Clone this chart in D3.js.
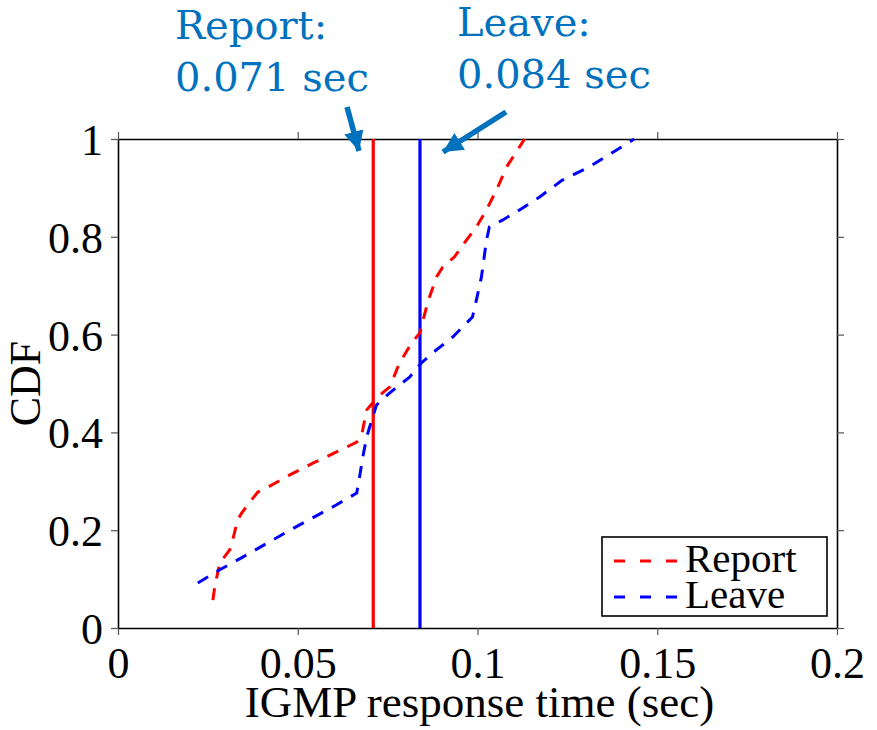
<!DOCTYPE html>
<html>
<head>
<meta charset="utf-8">
<script src="https://cdn.jsdelivr.net/npm/d3@7"></script>
<style>
  body { margin: 0; background: #fff; }
  svg text { font-family: "Liberation Serif", "Times New Roman", serif; }
</style>
</head>
<body>
<script>
// CDF of IGMP response times
var reportX = [0.0264, 0.0269, 0.0283, 0.0311, 0.0319, 0.0333, 0.0344, 0.0367, 0.0389, 0.0417,
               0.0478, 0.0542, 0.0608, 0.0664, 0.0678, 0.0686, 0.0692, 0.0708, 0.0736, 0.0756,
               0.0783, 0.0817, 0.0839, 0.0847, 0.0861, 0.0886, 0.0903, 0.0936, 0.0969, 0.0997,
               0.1025, 0.1053, 0.1081, 0.1117, 0.1131];
var reportY = [0.057, 0.084, 0.133, 0.160, 0.180, 0.221, 0.235, 0.258, 0.278, 0.288,
               0.313, 0.337, 0.360, 0.380, 0.395, 0.425, 0.446, 0.460, 0.481, 0.493,
               0.542, 0.583, 0.603, 0.624, 0.665, 0.718, 0.738, 0.759, 0.793, 0.820,
               0.855, 0.896, 0.943, 0.984, 1.0];
var leaveX = [0.0222, 0.0283, 0.0347, 0.0478, 0.0608, 0.0664, 0.0672, 0.0681, 0.0692, 0.0700,
              0.0719, 0.0756, 0.0811, 0.0844, 0.0886, 0.0931, 0.0986, 0.0997, 0.1011, 0.1025,
              0.1033, 0.1069, 0.1117, 0.1172, 0.1236, 0.1311, 0.1436];
var leaveY = [0.092, 0.119, 0.145, 0.200, 0.252, 0.276, 0.309, 0.350, 0.391, 0.411,
              0.456, 0.481, 0.513, 0.542, 0.569, 0.595, 0.636, 0.671, 0.718, 0.793,
              0.820, 0.834, 0.855, 0.881, 0.916, 0.943, 1.0];
var seriesNames = ['Report', 'Leave'];
var seriesColors = ['#ff0000', '#0000ff'];
var meanValues = [0.071, 0.084];
var meanLabels = ['0.071 sec', '0.084 sec'];
var xTicks = [0, 0.05, 0.1, 0.15, 0.2];
var xTickLabels = ['0', '0.05', '0.1', '0.15', '0.2'];
var yTicks = [0, 0.2, 0.4, 0.6, 0.8, 1];
var yTickLabels = ['0', '0.2', '0.4', '0.6', '0.8', '1'];

var width = 877, height = 730;
var margin = {left: 118, right: 40, top: 139, bottom: 102};

var svg = d3.select('body').append('svg')
    .attr('width', width)
    .attr('height', height);

var x = d3.scaleLinear().domain([0, 0.2]).range([margin.left, width - margin.right]);
var y = d3.scaleLinear().domain([0, 1]).range([height - margin.bottom, margin.top]);

// axes on all four sides, ticks pointing outward
function styleAxis(g) {
  g.select('.domain').attr('stroke', '#000').attr('stroke-width', 1.6);
  g.selectAll('.tick line').attr('stroke', '#555').attr('stroke-width', 1.2);
  g.selectAll('.tick text').attr('fill', '#000').style('font-size', '44px')
    .style('font-family', '"Liberation Serif", serif');
}

svg.append('g')
    .attr('transform', 'translate(0,' + y(0) + ')')
    .call(d3.axisBottom(x).tickValues(xTicks).tickSize(7).tickSizeOuter(0).tickPadding(12)
      .tickFormat(function(d, i) { return xTickLabels[i]; }))
    .call(styleAxis)
    .call(function(g) { g.selectAll('.tick text').attr('dy', '0.71em').attr('y', 19); });

svg.append('g')
    .attr('transform', 'translate(0,' + y(1) + ')')
    .call(d3.axisTop(x).tickValues(xTicks).tickSize(7).tickSizeOuter(0).tickFormat(''))
    .call(styleAxis);

svg.append('g')
    .attr('transform', 'translate(' + x(0) + ',0)')
    .call(d3.axisLeft(y).tickValues(yTicks).tickSize(7).tickSizeOuter(0).tickPadding(8)
      .tickFormat(function(d, i) { return yTickLabels[i]; }))
    .call(styleAxis)
    .call(function(g) { g.selectAll('.tick text').attr('dy', '0.35em').attr('x', -15); });

svg.append('g')
    .attr('transform', 'translate(' + x(0.2) + ',0)')
    .call(d3.axisRight(y).tickValues(yTicks).tickSize(7).tickSizeOuter(0).tickFormat(''))
    .call(styleAxis);

// axis titles
svg.append('text')
    .attr('x', (x(0) + x(0.2)) / 2 + 2)
    .attr('y', 717)
    .attr('text-anchor', 'middle')
    .style('font-size', '45px')
    .text('IGMP response time (sec)');

svg.append('text')
    .attr('transform', 'translate(40,' + ((y(0) + y(1)) / 2) + ') rotate(-90)')
    .attr('text-anchor', 'middle')
    .style('font-size', '44px')
    .text('CDF');

// vertical mean lines
svg.selectAll('.mean')
    .data(meanValues)
  .enter().append('line')
    .attr('class', 'mean')
    .attr('x1', function(d) { return x(d); })
    .attr('x2', function(d) { return x(d); })
    .attr('y1', y(0))
    .attr('y2', y(1))
    .attr('stroke', function(d, i) { return seriesColors[i]; })
    .attr('stroke-width', 3.2);

// CDF curves
var line = d3.line()
    .x(function(d) { return x(d[0]); })
    .y(function(d) { return y(d[1]); });

var curves = [d3.zip(reportX, reportY), d3.zip(leaveX, leaveY)];

svg.selectAll('.cdf')
    .data(curves)
  .enter().append('path')
    .attr('class', 'cdf')
    .attr('d', line)
    .attr('fill', 'none')
    .attr('stroke', function(d, i) { return seriesColors[i]; })
    .attr('stroke-width', 3)
    .attr('stroke-dasharray', '12,10');

// legend
var legend = svg.append('g');
legend.append('rect')
    .attr('x', 602).attr('y', 537)
    .attr('width', 225).attr('height', 79)
    .attr('fill', '#fff')
    .attr('stroke', '#000')
    .attr('stroke-width', 1.6);

seriesNames.forEach(function(name, i) {
  var ly = 561 + i * 36;
  legend.append('line')
      .attr('x1', 614).attr('x2', 677)
      .attr('y1', ly).attr('y2', ly)
      .attr('stroke', seriesColors[i])
      .attr('stroke-width', 3)
      .attr('stroke-dasharray', '11,15');
  legend.append('text')
      .attr('x', 685)
      .attr('y', ly + 11)
      .style('font-size', '41px')
      .text(name);
});

// annotations with arrows
var annBlue = '#0072bd';
svg.append('defs').append('marker')
    .attr('id', 'head')
    .attr('viewBox', '0 0 10 10')
    .attr('refX', 10).attr('refY', 5)
    .attr('markerWidth', 3.6).attr('markerHeight', 3.6)
    .attr('markerUnits', 'strokeWidth')
    .attr('orient', 'auto')
  .append('path')
    .attr('d', 'M0,0 L10,5 L0,10 z')
    .attr('fill', annBlue);

var annPos = [[175, 39], [457, 36]];
var arrows = [[[347, 107], [359, 151]], [[506, 112], [443, 152]]];

seriesNames.forEach(function(name, i) {
  var t = svg.append('text')
      .attr('x', annPos[i][0])
      .attr('y', annPos[i][1])
      .attr('fill', annBlue)
      .style('font-family', '"DejaVu Serif", serif')
      .style('font-size', '40px');
  t.append('tspan').text(name + ':');
  t.append('tspan').attr('x', annPos[i][0]).attr('dy', 52).text(meanLabels[i]);

  svg.append('line')
      .attr('x1', arrows[i][0][0]).attr('y1', arrows[i][0][1])
      .attr('x2', arrows[i][1][0]).attr('y2', arrows[i][1][1])
      .attr('stroke', annBlue)
      .attr('stroke-width', 5.5)
      .attr('marker-end', 'url(#head)');
});
</script>
</body>
</html>
